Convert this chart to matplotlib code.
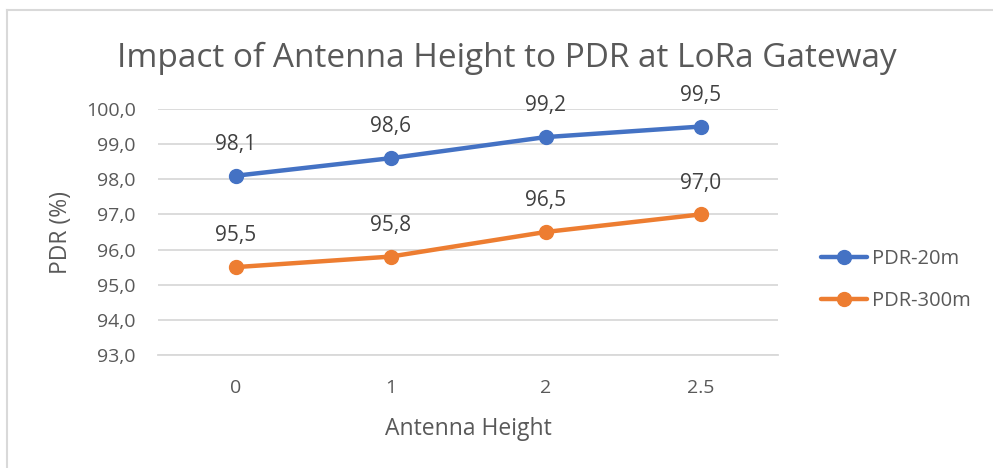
import matplotlib.pyplot as plt
from matplotlib.lines import Line2D

plt.rcParams['font.family'] = ['Open Sans', 'DejaVu Sans']

# data
heights = ['0', '1', '2', '2.5']
pdr_20m = [98.1, 98.6, 99.2, 99.5]
pdr_300m = [95.5, 95.8, 96.5, 97.0]
yticks = [93, 94, 95, 96, 97, 98, 99, 100]

TXT = '#595959'
W, H = 993, 468

fig = plt.figure(figsize=(W / 100, H / 100), dpi=100)
ax = fig.add_axes([158 / W, 1 - 355 / H, 620 / W, 246 / H])

# chart frame (left and top edges visible)
fig.add_artist(Line2D([7 / W, 7 / W], [0, 1 - 10 / H], color='#d9d9d9', lw=1.5))
fig.add_artist(Line2D([7 / W, 1], [1 - 10 / H, 1 - 10 / H], color='#d9d9d9', lw=1.5))

x = list(range(len(heights)))
series = [(pdr_20m, '#4472C4', 'PDR-20m'), (pdr_300m, '#ED7D31', 'PDR-300m')]
for vals, col, lab in series:
    ax.plot(x, vals, color=col, lw=3.2, marker='o', markersize=10,
            solid_capstyle='round', label=lab, zorder=3)
    for xi, v in zip(x, vals):
        ax.annotate(f'{v:.1f}'.replace('.', ','), (xi, v), xytext=(0, 15),
                    textcoords='offset points', ha='center', va='bottom',
                    fontsize=15, color='#404040')

ax.set_xlim(-0.5, len(heights) - 0.5)
ax.set_ylim(93, 100)
ax.set_yticks(yticks)
ax.set_yticklabels([f'{t:.1f}'.replace('.', ',') for t in yticks])
ax.set_xticks(x)
ax.set_xticklabels(heights)
ax.tick_params(length=0, labelsize=14, labelcolor=TXT)
ax.tick_params(axis='y', pad=16)
ax.tick_params(axis='x', pad=17)
ax.yaxis.grid(True, color='#d9d9d9', lw=1.3)
ax.set_axisbelow(True)
for s in ['top', 'right', 'left']:
    ax.spines[s].set_visible(False)
ax.spines['bottom'].set_color('#d9d9d9')
ax.spines['bottom'].set_linewidth(1.3)

ax.set_xlabel('Antenna Height', fontsize=16.5, color=TXT, labelpad=15)
ax.set_ylabel('PDR (%)', fontsize=16.5, color=TXT, labelpad=9)

fig.text(507 / W, 1 - 58 / H, 'Impact of Antenna Height to PDR at LoRa Gateway',
         ha='center', va='center', fontsize=24, color=TXT)

ax.legend(loc='center left', bbox_to_anchor=(1.04, 0.305), frameon=False,
          fontsize=14.5, labelcolor=TXT, handlelength=2.3, labelspacing=1.1,
          handletextpad=0.25)

fig.savefig('out.png', dpi=100, facecolor='white')
